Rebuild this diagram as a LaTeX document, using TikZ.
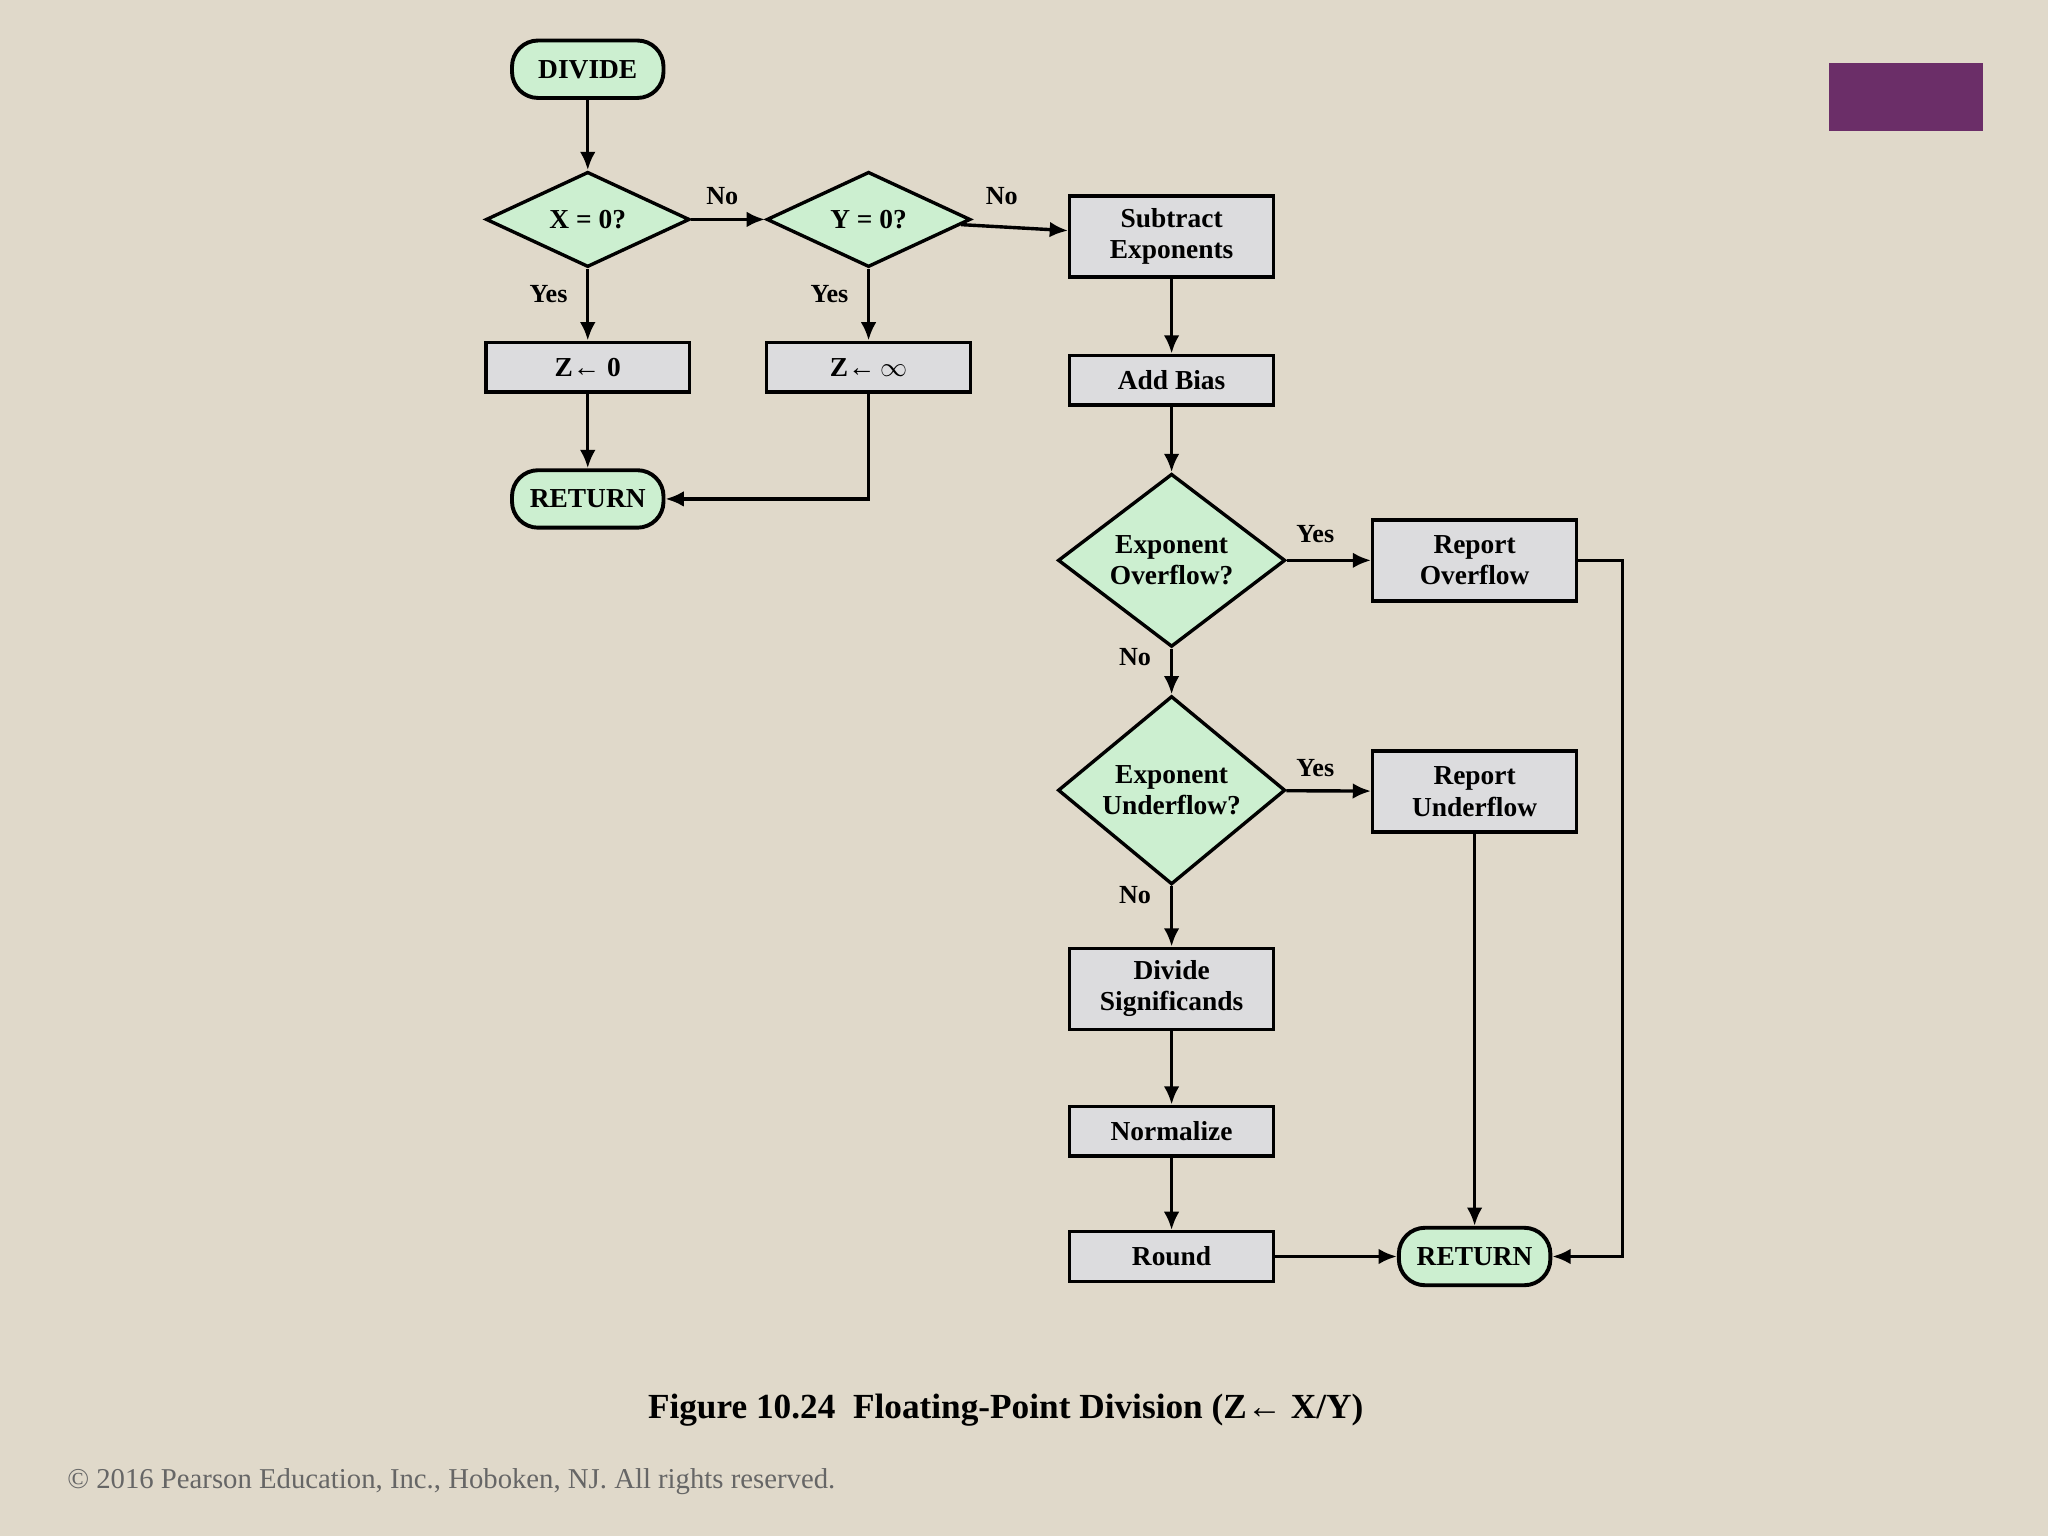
\documentclass[tikz,border=0pt]{standalone}
\usepackage{amsmath}
\usepackage{fontspec}
\setmainfont{Liberation Serif}
\usetikzlibrary{shapes.geometric,arrows.meta}
\definecolor{bg}{HTML}{E0D9CA}
\definecolor{gfill}{HTML}{CCEFD0}
\definecolor{bfill}{HTML}{DCDCDE}
\definecolor{purp}{HTML}{6B2E68}
\begin{document}
\begin{tikzpicture}[x=1pt,y=-1pt,
  every node/.style={font=\fontsize{21}{24}\selectfont\bfseries},
  term/.style={draw,line width=3pt,rounded corners=20pt,fill=gfill,minimum width=116pt,minimum height=44pt,inner sep=0},
  box/.style={draw,line width=2.6pt,fill=bfill,minimum width=156pt,minimum height=38pt,align=center,inner sep=0},
  tbox/.style={box,minimum height=62pt},
  dec/.style={draw,line width=2.6pt,fill=gfill,diamond,inner sep=0,minimum width=156pt,minimum height=68pt,align=center},
  bdec/.style={dec,minimum width=174pt,minimum height=116pt},
  arr/.style={line width=2.6pt,-{Latex[length=14pt,width=12pt]}},
  lab/.style={font=\fontsize{20}{22}\selectfont\bfseries}]
\fill[bg] (0,0) rectangle (1568,1176);
\useasboundingbox (0,0) rectangle (1568,1176);
\fill[purp] (1400,48) rectangle (1518,100);
\node[term] (divide) at (450,53) {DIVIDE};
\node[dec] (x0) at (450,168) {X = 0?};
\node[dec] (y0) at (665,168) {Y = 0?};
\node[tbox] (sub) at (897,181) {Subtract\\Exponents};
\node[box] (z0) at (450,281) {Z←\ 0};
\node[box] (zinf) at (665,281) {Z←\,$\infty$};
\node[term] (ret1) at (450,382) {RETURN};
\node[box] (bias) at (897,291) {Add Bias};
\node[bdec] (ovf) at (897,429) {Exponent\\Overflow?};
\node[tbox] (rovf) at (1129,429) {Report\\Overflow};
\node[bdec] (unf) at (897,605) {Exponent\\Underflow?};
\node[tbox] (runf) at (1129,606) {Report\\Underflow};
\node[tbox] (div) at (897,757) {Divide\\Significands};
\node[box] (norm) at (897,866) {Normalize};
\node[box] (round) at (897,962) {Round};
\node[term] (ret2) at (1129,962) {RETURN};
\coordinate (c1) at (665,382);
\coordinate (c2) at (1242,429);
\coordinate (c3) at (1242,962);
\draw[arr] (divide) -- (x0);
\draw[arr] (x0) -- (y0);
\draw[arr] (y0) -- (sub);
\draw[arr] (x0) -- (z0);
\draw[arr] (y0) -- (zinf);
\draw[arr] (z0) -- (ret1);
\draw[arr] (zinf.south) -- (c1) -- (ret1.east);
\draw[arr] (sub) -- (bias);
\draw[arr] (bias) -- (ovf);
\draw[arr] (ovf) -- (rovf);
\draw[arr] (ovf) -- (unf);
\draw[arr] (unf) -- (runf);
\draw[arr] (unf) -- (div);
\draw[arr] (div) -- (norm);
\draw[arr] (norm) -- (round);
\draw[arr] (round) -- (ret2);
\draw[arr] (runf) -- (ret2);
\draw[arr] (rovf.east) -- (c2) -- (c3) -- (ret2.east);
\node[lab] at (553,150) {No};
\node[lab] at (767,150) {No};
\node[lab] at (420,225) {Yes};
\node[lab] at (635,225) {Yes};
\node[lab] at (1007,409) {Yes};
\node[lab] at (869,503) {No};
\node[lab] at (1007,588) {Yes};
\node[lab] at (869,685) {No};
\node[font=\fontsize{27}{30}\selectfont\bfseries] (cap) at (770,1080) {Figure 10.24\ \ Floating-Point Division (Z← X/Y)};
\node[font=\fontsize{22}{24}\selectfont,text=gray!80!black,anchor=west] (copy) at (48,1134) {© 2016 Pearson Education, Inc., Hoboken, NJ. All rights reserved.};
\end{tikzpicture}
\end{document}
